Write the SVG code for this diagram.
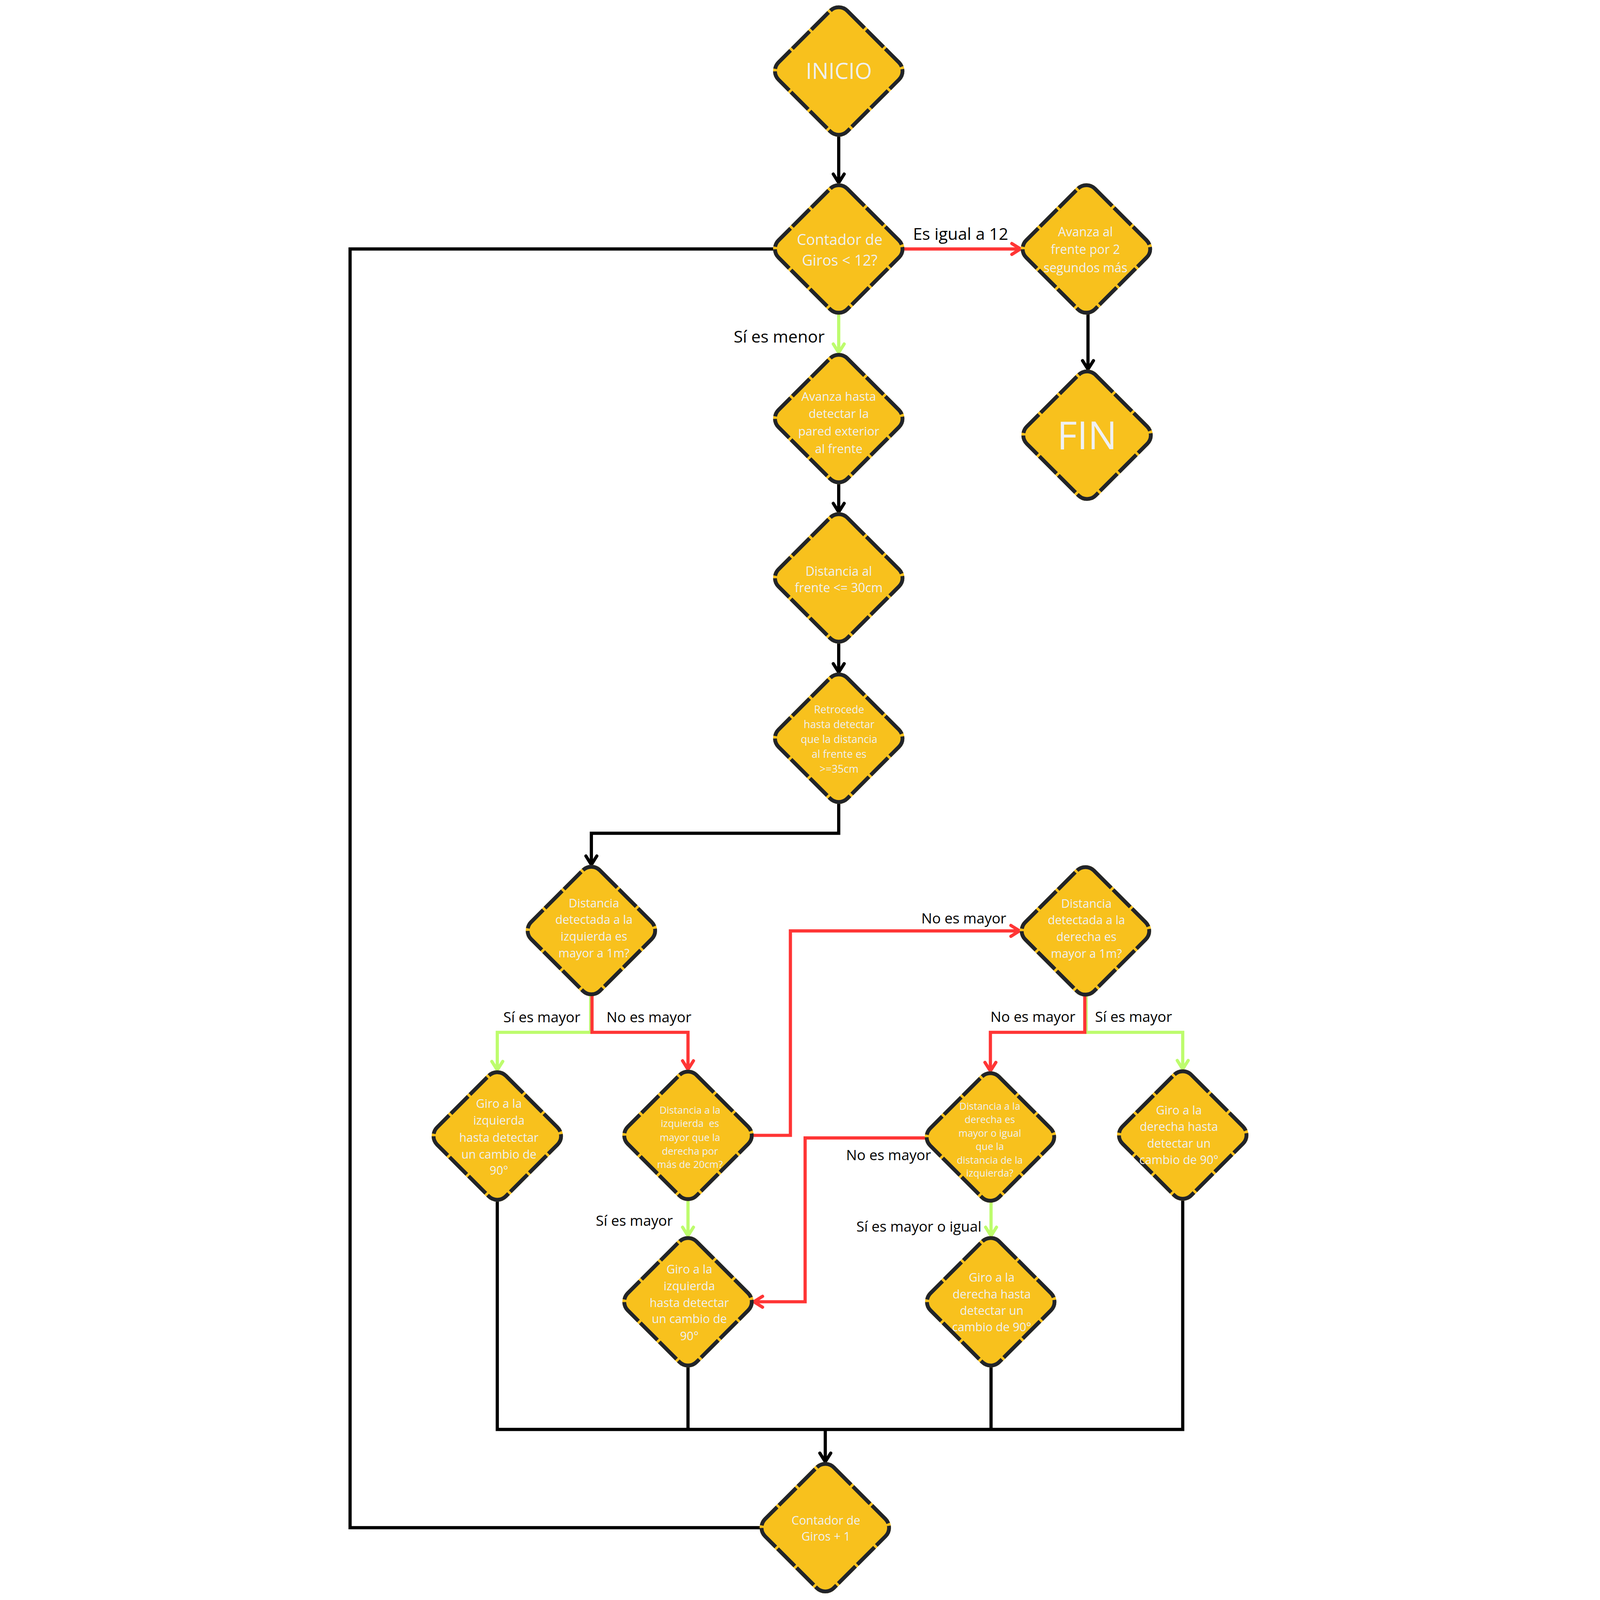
<svg xmlns="http://www.w3.org/2000/svg" width="5000" height="5000" viewBox="0 0 5000 5000" style="width:100%;height:100%">
<style>
.f{fill:#F8C11D;stroke:#F8C11D;stroke-width:12}
.s{fill:none;stroke:#212429;stroke-width:12;stroke-dasharray:76 8}
.t{font-family:"Open Sans","DejaVu Sans",sans-serif;fill:#EFF0F3;text-anchor:middle}
.l{font-family:"Open Sans","DejaVu Sans",sans-serif;fill:#000;font-size:45px}
.lb{font-size:52px}
.c{fill:none;stroke-width:10;stroke-linejoin:miter}
.k{stroke:#000}
.r{stroke:#FF3535}
.g{stroke:#BDFC6D}
</style>
<defs>
<rect id="dm" x="-152" y="-152" width="304" height="304" rx="38" transform="rotate(45)"/>
<marker id="ak" markerUnits="userSpaceOnUse" viewBox="-40 -30 50 60" refX="0" refY="0" markerWidth="50" markerHeight="60" orient="auto" overflow="visible"><path d="M-27,-17 L0,0 L-27,17" fill="none" stroke="#000" stroke-width="10" stroke-linecap="round" stroke-linejoin="round"/></marker>
<marker id="ar" markerUnits="userSpaceOnUse" viewBox="-40 -30 50 60" refX="0" refY="0" markerWidth="50" markerHeight="60" orient="auto" overflow="visible"><path d="M-27,-17 L0,0 L-27,17" fill="none" stroke="#FF3535" stroke-width="10" stroke-linecap="round" stroke-linejoin="round"/></marker>
<marker id="ag" markerUnits="userSpaceOnUse" viewBox="-40 -30 50 60" refX="0" refY="0" markerWidth="50" markerHeight="60" orient="auto" overflow="visible"><path d="M-27,-17 L0,0 L-27,17" fill="none" stroke="#BDFC6D" stroke-width="10" stroke-linecap="round" stroke-linejoin="round"/></marker>
</defs>
<rect width="5000" height="5000" fill="#fff"/>

<g id="connectors">
<path class="c k" d="M2621,419 V571" marker-end="url(#ak)"/>
<path class="c k" d="M3400,975 V1154" marker-end="url(#ak)"/>
<path class="c k" d="M2621,1505 V1600" marker-end="url(#ak)"/>
<path class="c k" d="M2621,2003 V2101" marker-end="url(#ak)"/>
<path class="c k" d="M2621,2504 V2604 H1848 V2702" marker-end="url(#ak)"/>
<path class="c k" d="M1554,3746 V4467 H3696 V3743"/>
<path class="c k" d="M2150,4265 V4467"/>
<path class="c k" d="M3097,4265 V4467"/>
<path class="c k" d="M2579,4467 V4568" marker-end="url(#ak)"/>
<path class="c k" d="M2383,4774 H1094 V778 H2425"/>
<path class="c g" d="M2621,975 V1102" marker-end="url(#ag)"/>
<path class="c g" d="M1846,3105 V3226 H1554 V3344" marker-end="url(#ag)"/>
<path class="c g" d="M2150,3745 V3862" marker-end="url(#ag)"/>
<path class="c g" d="M3394,3106 V3226 H3696 V3341" marker-end="url(#ag)"/>
<path class="c g" d="M3097,3750 V3862" marker-end="url(#ag)"/>
<path class="c r" d="M2818,778 H3189" marker-end="url(#ar)"/>
<path class="c r" d="M1850,3105 V3226 H2150 V3342" marker-end="url(#ar)"/>
<path class="c r" d="M2346,3548 H2470 V2909 H3186" marker-end="url(#ar)"/>
<path class="c r" d="M3390,3106 V3226 H3095 V3347" marker-end="url(#ar)"/>
<path class="c r" d="M2899,3556 H2516 V4068 H2356" marker-end="url(#ar)"/>
<text class="l lb" x="2853" y="750">Es igual a 12</text>
<text class="l lb" x="2577" y="1071" text-anchor="end">Sí es menor</text>
<text class="l" x="1573" y="3195">Sí es mayor</text>
<text class="l" x="1895" y="3195">No es mayor</text>
<text class="l" x="2879" y="2886">No es mayor</text>
<text class="l" x="3095" y="3193">No es mayor</text>
<text class="l" x="3422" y="3193">Sí es mayor</text>
<text class="l" x="2644" y="3626">No es mayor</text>
<text class="l" x="1862" y="3831">Sí es mayor</text>
<text class="l" x="2676" y="3849">Sí es mayor o igual</text>
</g>

<g id="n-inicio"><g transform="translate(2621,222)"><use href="#dm" class="f"/><use href="#dm" class="s"/></g>
<text class="t" x="2621" y="247" font-size="69">INICIO</text></g>

<g id="n-contador"><g transform="translate(2621,778)"><use href="#dm" class="f"/><use href="#dm" class="s"/></g>
<text class="t" font-size="46"><tspan x="2624" y="765">Contador de</tspan><tspan x="2624" y="830">Giros &lt; 12?</tspan></text></g>

<g id="n-avanza-frente"><g transform="translate(3395,778)"><use href="#dm" class="f"/><use href="#dm" class="s"/></g>
<text class="t" font-size="39"><tspan x="3392" y="738">Avanza al</tspan><tspan x="3392" y="794">frente por 2</tspan><tspan x="3392" y="851">segundos más</tspan></text></g>

<g id="n-fin"><g transform="translate(3397,1360)"><use href="#dm" class="f"/><use href="#dm" class="s"/></g>
<text class="t" x="3397" y="1404" font-size="121">FIN</text></g>

<g id="n-avanza-hasta"><g transform="translate(2621,1308)"><use href="#dm" class="f"/><use href="#dm" class="s"/></g>
<text class="t" font-size="38"><tspan x="2621" y="1253">Avanza hasta</tspan><tspan x="2621" y="1306">detectar la</tspan><tspan x="2621" y="1361">pared exterior</tspan><tspan x="2621" y="1416">al frente</tspan></text></g>

<g id="n-distancia-frente"><g transform="translate(2621,1806)"><use href="#dm" class="f"/><use href="#dm" class="s"/></g>
<text class="t" font-size="39"><tspan x="2621" y="1799">Distancia al</tspan><tspan x="2621" y="1851">frente &lt;= 30cm</tspan></text></g>

<g id="n-retrocede"><g transform="translate(2621,2307)"><use href="#dm" class="f"/><use href="#dm" class="s"/></g>
<text class="t" font-size="33"><tspan x="2622" y="2229">Retrocede</tspan><tspan x="2622" y="2275">hasta detectar</tspan><tspan x="2622" y="2322">que la distancia</tspan><tspan x="2622" y="2368">al frente es</tspan><tspan x="2622" y="2414">&gt;=35cm</tspan></text></g>

<g id="n-dist-izq"><g transform="translate(1848,2908)"><use href="#dm" class="f"/><use href="#dm" class="s"/></g>
<text class="t" font-size="37"><tspan x="1856" y="2836">Distancia</tspan><tspan x="1856" y="2887">detectada a la</tspan><tspan x="1856" y="2940">izquierda es</tspan><tspan x="1856" y="2992">mayor a 1m?</tspan></text></g>

<g id="n-dist-der"><g transform="translate(3392,2909)"><use href="#dm" class="f"/><use href="#dm" class="s"/></g>
<text class="t" font-size="37"><tspan x="3395" y="2837">Distancia</tspan><tspan x="3395" y="2888">detectada a la</tspan><tspan x="3395" y="2941">derecha es</tspan><tspan x="3395" y="2993">mayor a 1m?</tspan></text></g>

<g id="n-giro-izq-1"><g transform="translate(1554,3550)"><use href="#dm" class="f"/><use href="#dm" class="s"/></g>
<text class="t" font-size="37"><tspan x="1559" y="3462">Giro a la</tspan><tspan x="1559" y="3514">izquierda</tspan><tspan x="1559" y="3568">hasta detectar</tspan><tspan x="1559" y="3620">un cambio de</tspan><tspan x="1559" y="3671">90°</tspan></text></g>

<g id="n-izq-mayor-der"><g transform="translate(2150,3548)"><use href="#dm" class="f"/><use href="#dm" class="s"/></g>
<text class="t" font-size="31" xml:space="preserve"><tspan x="2156" y="3480">Distancia a la</tspan><tspan x="2156" y="3522">izquierda  es</tspan><tspan x="2156" y="3566">mayor que la</tspan><tspan x="2156" y="3608">derecha por</tspan><tspan x="2156" y="3650">más de 20cm?</tspan></text></g>

<g id="n-der-mayor-izq"><g transform="translate(3095,3553)"><use href="#dm" class="f"/><use href="#dm" class="s"/></g>
<text class="t" font-size="31"><tspan x="3093" y="3468">Distancia a la</tspan><tspan x="3093" y="3510">derecha es</tspan><tspan x="3093" y="3552">mayor o igual</tspan><tspan x="3093" y="3594">que la</tspan><tspan x="3093" y="3637">distancia de la</tspan><tspan x="3093" y="3677">izquierda?</tspan></text></g>

<g id="n-giro-der-1"><g transform="translate(3696,3547)"><use href="#dm" class="f"/><use href="#dm" class="s"/></g>
<text class="t" font-size="37"><tspan x="3684" y="3483">Giro a la</tspan><tspan x="3684" y="3534">derecha hasta</tspan><tspan x="3684" y="3587">detectar un</tspan><tspan x="3684" y="3638">cambio de 90°</tspan></text></g>

<g id="n-giro-izq-2"><g transform="translate(2150,4068)"><use href="#dm" class="f"/><use href="#dm" class="s"/></g>
<text class="t" font-size="37"><tspan x="2154" y="3980">Giro a la</tspan><tspan x="2154" y="4032">izquierda</tspan><tspan x="2154" y="4084">hasta detectar</tspan><tspan x="2154" y="4135">un cambio de</tspan><tspan x="2154" y="4188">90°</tspan></text></g>

<g id="n-giro-der-2"><g transform="translate(3096,4068)"><use href="#dm" class="f"/><use href="#dm" class="s"/></g>
<text class="t" font-size="37"><tspan x="3099" y="4005">Giro a la</tspan><tspan x="3099" y="4058">derecha hasta</tspan><tspan x="3099" y="4109">detectar un</tspan><tspan x="3099" y="4160">cambio de 90°</tspan></text></g>

<g id="n-contador-mas"><g transform="translate(2579,4774)"><use href="#dm" class="f"/><use href="#dm" class="s"/></g>
<text class="t" font-size="37"><tspan x="2581" y="4764">Contador de</tspan><tspan x="2581" y="4815">Giros + 1</tspan></text></g>
</svg>
